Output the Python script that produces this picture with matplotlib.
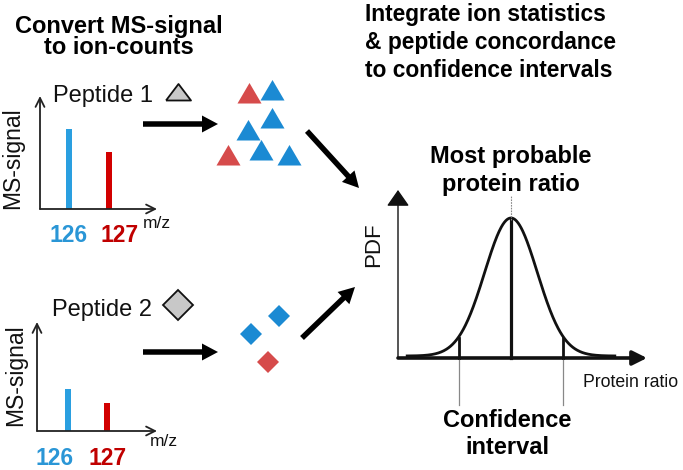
import numpy as np
import matplotlib
matplotlib.use("Agg")
import matplotlib.pyplot as plt

# ---------------- data ----------------
reporter_mz = [126, 127]                 # TMT reporter ions
reporter_labels = ["126", "127"]
pep1_intensity = [100, 71]               # relative MS signal, peptide 1
pep2_intensity = [52, 35]                # relative MS signal, peptide 2
pep1_ions = ["127", "126", "126", "126", "126", "127", "126"]   # ion counts (7 ions)
pep2_ions = ["126", "126", "127"]                                # ion counts (3 ions)
pdf_mean = 0.0
pdf_sd = 1.0
ci_z = 1.96                               # 95% confidence interval

# ---------------- style ----------------
W, H = 683, 470
FONT = "Liberation Sans"
BLUE_BAR, RED_BAR = "#2A9FE0", "#D20000"
BLUE_TXT, RED_TXT = "#2A96D6", "#C00000"
BLUE_MK, RED_MK = "#1B8AD3", "#D64B4B"
ion_color = {"126": BLUE_MK, "127": RED_MK}

plt.rcParams["font.family"] = [FONT, "DejaVu Sans"]
fig = plt.figure(figsize=(W / 100, H / 100), dpi=100)
fig.patch.set_facecolor("white")

ov = fig.add_axes([0, 0, 1, 1])
ov.set_xlim(0, W)
ov.set_ylim(H, 0)
ov.axis("off")


def px_axes(x0, y_top, x1, y_bot):
    a = fig.add_axes([x0 / W, 1 - y_bot / H, (x1 - x0) / W, (y_bot - y_top) / H])
    a.patch.set_alpha(0)
    for s in a.spines.values():
        s.set_visible(False)
    a.set_xticks([])
    a.set_yticks([])
    return a


def spectrum(box, bar_px, intens, scale):
    x0, yt, x1, yb = box
    ax = px_axes(x0, yt, x1, yb)
    ppu = bar_px[1] - bar_px[0]
    ax.set_xlim(reporter_mz[0] - (bar_px[0] - x0) / ppu, reporter_mz[0] + (x1 - bar_px[0]) / ppu)
    ax.set_ylim(0, (yb - yt) / scale)
    ax.bar(reporter_mz, intens, width=5.5 / ppu, color=[BLUE_BAR, RED_BAR], zorder=2)
    ap = dict(arrowstyle="->", lw=1.3, color="#222222", mutation_scale=16, shrinkA=0, shrinkB=0)
    ax.annotate("", xy=(0, 1), xytext=(0, 0), xycoords="axes fraction", arrowprops=ap)
    ax.annotate("", xy=(1, 0), xytext=(0, 0), xycoords="axes fraction", arrowprops=ap)
    return ax


spectrum((40, 96, 157, 209), (69, 109), pep1_intensity, 0.8)
spectrum((37, 322, 157, 431), (68, 107), pep2_intensity, 0.8)

# spectrum texts
for (y_c, x_c) in [(158, 13), (375, 16)]:
    ov.text(x_c, y_c, "MS-signal", rotation=90, ha="center", va="center", fontsize=16.5, color="#111111")
for (xs, yb) in [((69, 120), 242), ((55, 108), 465)]:
    ov.text(xs[0], yb, reporter_labels[0], ha="center", va="baseline", fontsize=16.5,
            fontweight="bold", color=BLUE_TXT)
    ov.text(xs[1], yb, reporter_labels[1], ha="center", va="baseline", fontsize=16.5,
            fontweight="bold", color=RED_TXT)
ov.text(143, 228, "m/z", ha="left", va="baseline", fontsize=12.5, color="#111111")
ov.text(150, 446, "m/z", ha="left", va="baseline", fontsize=12.5, color="#111111")

ov.text(53, 102, "Peptide 1", ha="left", va="baseline", fontsize=17, color="#111111")
ov.text(52, 316, "Peptide 2", ha="left", va="baseline", fontsize=17, color="#111111")

# titles
ov.text(119, 33, "Convert MS-signal", ha="center", va="baseline", fontsize=17, fontweight="bold")
ov.text(119, 54, "to ion-counts", ha="center", va="baseline", fontsize=17, fontweight="bold")
for yb, line in zip([21, 49, 77], ["Integrate ion statistics", "& peptide concordance",
                                    "to confidence intervals"]):
    ov.text(365, yb, line, ha="left", va="baseline", fontsize=16.4, fontweight="bold")

# marker shapes
tri_big = [(-12.5, -8), (12.5, -8), (0, 8.5), (-12.5, -8)]
tri = [(-12, -10), (12, -10), (0, 10.5), (-12, -10)]
ov.plot([178], [92], marker=tri_big, markersize=18, markerfacecolor="#C8C8C8",
        markeredgecolor="#111111", markeredgewidth=1.3, linestyle="none")
ov.plot([178], [305], marker="D", markersize=15, markerfacecolor="#C8C8C8",
        markeredgecolor="#111111", markeredgewidth=1.3, linestyle="none")

pep1_pos = [(249, 93), (272, 89.5), (272, 118), (248, 130), (261, 150), (228, 155), (289, 155)]
for ion, (x, y) in zip(pep1_ions, pep1_pos):
    ov.plot([x], [y], marker=tri, markersize=17.3, color=ion_color[ion], markeredgewidth=0,
            linestyle="none")
pep2_pos = [(251, 334), (279, 316), (268, 362)]
for ion, (x, y) in zip(pep2_ions, pep2_pos):
    ov.plot([x], [y], marker="D", markersize=11.7, color=ion_color[ion], markeredgewidth=0,
            linestyle="none")

# big arrows
akw = dict(width=5.5, head_width=17, head_length=16, length_includes_head=True,
           color="black", linewidth=0)
ov.arrow(143, 124, 75, 0, **akw)
ov.arrow(143, 352, 75, 0, **akw)
ov.arrow(307, 131, 52, 57, **akw)
ov.arrow(302, 338, 53, -51, **akw)

# ---------------- PDF panel ----------------
x_px0, x_px1, y_top, y_base = 398, 647, 190, 358
mean_px, sd_px, peak_px = 511, 26.3, 138
pa = px_axes(x_px0, y_top, x_px1, y_base)
pk = 1 / np.sqrt(2 * np.pi)
ppy = peak_px / pk
pa.set_xlim(pdf_mean + (x_px0 - mean_px) / sd_px * pdf_sd, pdf_mean + (x_px1 - mean_px) / sd_px * pdf_sd)
pa.set_ylim(0, (y_base - y_top) / ppy)

xs = np.linspace(pdf_mean - 4 * pdf_sd, pdf_mean + 4 * pdf_sd, 400)
pdf = np.exp(-0.5 * ((xs - pdf_mean) / pdf_sd) ** 2) / (pdf_sd * np.sqrt(2 * np.pi))
pa.plot(xs, pdf + 2.0 / ppy, color="#111111", lw=2.0, clip_on=False, solid_capstyle="butt")

lo, hi = pdf_mean - ci_z * pdf_sd, pdf_mean + ci_z * pdf_sd
for v in (lo, hi):
    h = np.exp(-0.5 * ((v - pdf_mean) / pdf_sd) ** 2) / (pdf_sd * np.sqrt(2 * np.pi))
    pa.plot([v, v], [0, h], color="#111111", lw=2.0, clip_on=False)
    pa.plot([v, v], [-47 / ppy, 0], color="#888888", lw=0.9, clip_on=False)
pa.plot([pdf_mean, pdf_mean], [0, pk], color="#111111", lw=2.3, clip_on=False)
pa.plot([pdf_mean, pdf_mean], [pk, 163 / ppy], color="#888888", lw=0.8, ls=(0, (1.5, 1)),
        clip_on=False)

pa.annotate("", xy=(1, 0), xytext=(0, 0), xycoords="axes fraction",
            arrowprops=dict(arrowstyle="-|>,head_length=0.9,head_width=0.45", lw=2.6,
                            color="#111111", shrinkA=0, shrinkB=0, mutation_scale=9.6))
pa.annotate("", xy=(0, 1), xytext=(0, 0), xycoords="axes fraction",
            arrowprops=dict(arrowstyle="-|>,head_length=1.0,head_width=0.7", lw=1.0,
                            color="#111111", shrinkA=0, shrinkB=0, mutation_scale=10))

ov.text(374, 245, "PDF", rotation=90, ha="center", va="center", fontsize=16, color="#111111")
ov.text(583, 387, "Protein ratio", ha="left", va="baseline", fontsize=12.7, color="#111111")
ov.text(511, 163, "Most probable", ha="center", va="baseline", fontsize=17, fontweight="bold")
ov.text(511, 191, "protein ratio", ha="center", va="baseline", fontsize=17, fontweight="bold")
ov.text(507, 427, "Confidence", ha="center", va="baseline", fontsize=17, fontweight="bold")
ov.text(507, 454, "interval", ha="center", va="baseline", fontsize=17, fontweight="bold")

fig.savefig("out.png", dpi=100, facecolor="white")
